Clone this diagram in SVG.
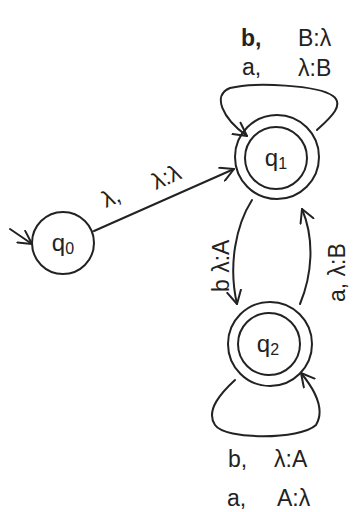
<svg xmlns="http://www.w3.org/2000/svg" width="353" height="512" viewBox="0 0 353 512">
<style>
.st{fill:none;stroke:#222;stroke-width:2;stroke-linecap:round;stroke-linejoin:round}
.tx{font-family:"Liberation Sans",Arial,sans-serif;fill:#222;font-size:23px}
.nl{font-family:"Liberation Sans",Arial,sans-serif;fill:#222;font-size:24px;text-anchor:middle}
</style>
<defs>
<marker id="ah" markerWidth="16" markerHeight="16" refX="14" refY="8" orient="auto" markerUnits="userSpaceOnUse">
<polyline points="1,1 14,8 1,15" fill="none" stroke="#222" stroke-width="2" stroke-linecap="round" stroke-linejoin="round"/>
</marker>
</defs>
<rect width="353" height="512" fill="#fff"/>
<g id="q0">
<circle class="st" cx="63" cy="243" r="31"/>
<text class="nl" x="63" y="251">q<tspan font-size="16" dy="3">0</tspan></text>
</g>
<g id="q1">
<circle class="st" cx="277" cy="157" r="42"/>
<circle class="st" cx="276" cy="158" r="31"/>
<text class="nl" x="276" y="166">q<tspan font-size="16" dy="3">1</tspan></text>
</g>
<g id="q2">
<circle class="st" cx="270" cy="344" r="42"/>
<circle class="st" cx="269" cy="344" r="31"/>
<text class="nl" x="268" y="352">q<tspan font-size="16" dy="3">2</tspan></text>
</g>
<g id="connectors">
<line class="st" x1="10" y1="229" x2="32" y2="244" marker-end="url(#ah)"/>
<line class="st" x1="94" y1="231" x2="234" y2="169" marker-end="url(#ah)"/>
<path class="st" d="M317,130 C330,118 345,105 333,96 C318,85 255,82 230,88 C212,95 222,118 247,136" marker-end="url(#ah)"/>
<path class="st" d="M252,200 C236,225 228,265 237,304" marker-end="url(#ah)"/>
<path class="st" d="M300,304 C312,275 315,240 302,209" marker-end="url(#ah)"/>
<path class="st" d="M235,380 C222,392 205,410 215,425 C225,440 300,440 316,425 C325,410 315,390 301,373" marker-end="url(#ah)"/>
</g>
<g id="labels">
<text class="tx" x="241" y="46" font-weight="bold" font-size="26">b,</text>
<text class="tx" x="298" y="46">B:λ</text>
<text class="tx" x="242" y="75">a,</text>
<text class="tx" x="298" y="76">λ:B</text>
<text class="tx" transform="translate(106,208) rotate(-24)">λ,</text>
<text class="tx" transform="translate(156,190) rotate(-24)">λ:λ</text>
<text class="tx" transform="translate(229,292) rotate(-90)">b λ:A</text>
<text class="tx" transform="translate(345,302) rotate(-90)">a, λ:B</text>
<text class="tx" x="228" y="467">b,</text>
<text class="tx" x="274" y="467">λ:A</text>
<text class="tx" x="227" y="506">a,</text>
<text class="tx" x="277" y="506">A:λ</text>
</g>
</svg>
